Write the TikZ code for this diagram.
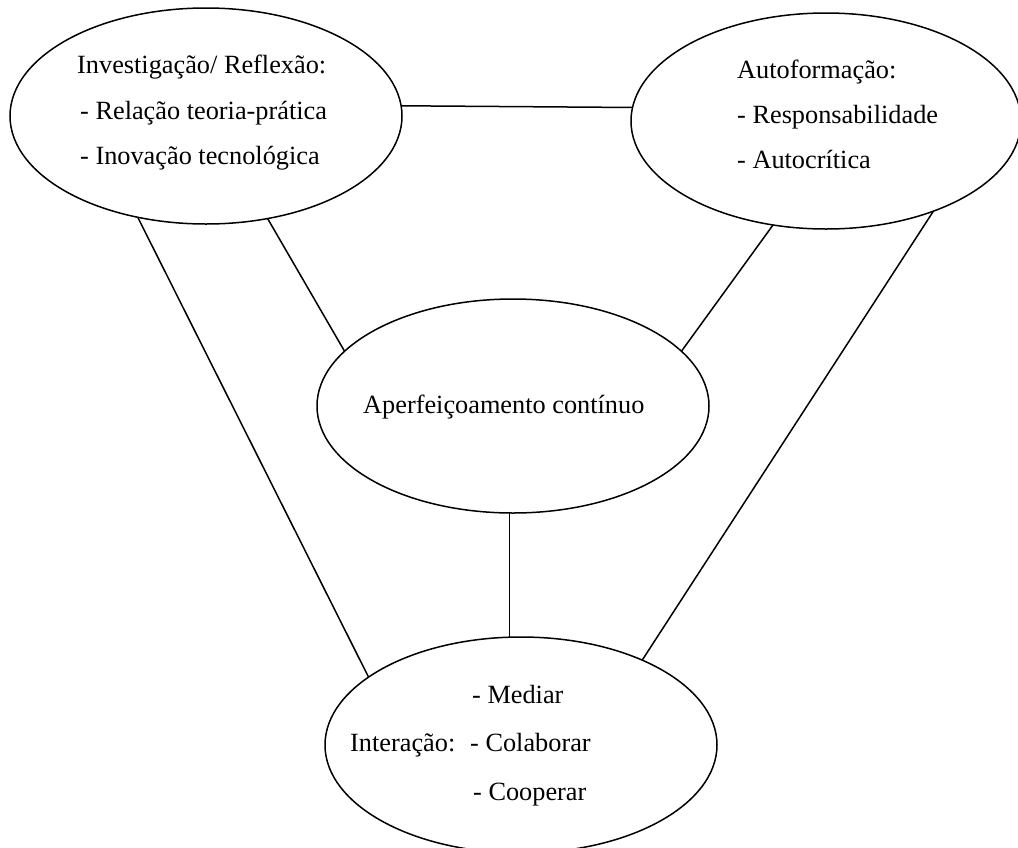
\documentclass[tikz,border=0pt]{standalone}
\usepackage{fontspec}
\setmainfont{Liberation Serif}
\usetikzlibrary{shapes.geometric}
\begin{document}
\begin{tikzpicture}[x=1pt,y=-1pt,
  bubble/.style={draw, ellipse, line width=1.5pt, minimum width=392pt, minimum height=216pt, inner sep=0pt, outer sep=0pt},
  link/.style={line width=1.5pt},
  txt/.style={anchor=base west, inner sep=0pt, font=\fontsize{26.3}{32}\selectfont}]
\useasboundingbox (0,0) rectangle (1018,847);
\clip (0,0) rectangle (1018,847);
% ellipses
\node[bubble] (inv) at (206,116) {};
\node[bubble, minimum width=390pt] (auto) at (826,121) {};
\node[bubble, minimum height=214pt] (aperf) at (513,406) {};
\node[bubble] (inter) at (521,745) {};
% texts
\node[txt] (t1) at (77,73) {Investigação/ Reflexão:};
\node[txt] (t2) at (80,119) {- Relação teoria-prática};
\node[txt] (t3) at (80,164) {- Inovação tecnológica};
\node[txt] (t4) at (737,78) {Autoformação:};
\node[txt] (t5) at (737,123) {- Responsabilidade};
\node[txt] (t6) at (737,168) {- Autocrítica};
\node[txt] (t7) at (363,413) {Aperfeiçoamento contínuo};
\node[txt] (t8) at (472,703) {- Mediar};
\node[txt] (t9) at (350,751) {Interação:};
\node[txt] (t10) at (470,751) {- Colaborar};
\node[txt] (t11) at (473,800) {- Cooperar};
% connectors
\draw[link] (inv.3) -- (auto.176);
\draw[link] (inv.236) -- (inter.156);
\draw[link] (inv.301) -- (aperf.162);
\draw[link] (auto.243) -- (aperf.18);
\draw[link] (auto.320) -- (inter.35);
\draw[link] (aperf.268) -- (aperf.268 |- inter.north);
\end{tikzpicture}
\end{document}
